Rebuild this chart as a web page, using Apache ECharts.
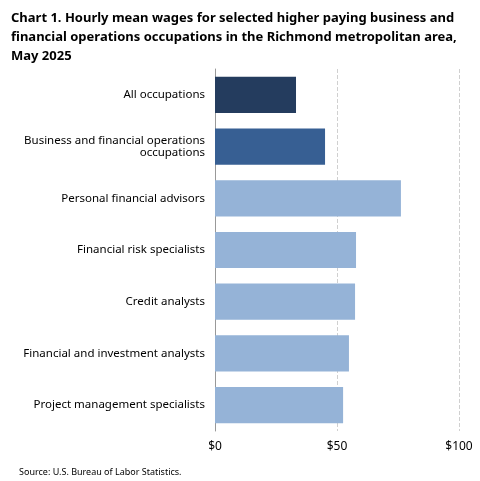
<!DOCTYPE html>
<html><head><meta charset="utf-8">
<script src="https://cdn.jsdelivr.net/npm/echarts@6/dist/echarts.min.js"></script>
<style>html,body{margin:0;padding:0;background:#fff}#c{width:480px;height:481px}</style>
</head><body><div id="c"></div>
<script>
const categories = ["All occupations","Business and financial operations\noccupations","Personal financial advisors","Financial risk specialists","Credit analysts","Financial and investment analysts","Project management specialists"];
const values = [33.2, 45.1, 76.2, 57.8, 57.4, 54.9, 52.5];
const colors = ["#243c5e","#375f93","#95b3d7","#95b3d7","#95b3d7","#95b3d7","#95b3d7"];
const chart = echarts.init(document.getElementById('c'));
chart.setOption({
  animation:false,
  textStyle:{fontFamily:"Noto Sans"},
  title:[{text:"Chart 1. Hourly mean wages for selected higher paying business and\nfinancial operations occupations in the Richmond metropolitan area,\nMay 2025",left:6,top:4,textStyle:{fontSize:13,fontWeight:"bold",color:"#000",lineHeight:19,fontFamily:"Noto Sans"}},
    {text:"Source: U.S. Bureau of Labor Statistics.",left:14,top:463,textStyle:{fontSize:9,fontWeight:"normal",color:"#000"}}],
  grid:{left:215,right:21,top:69,bottom:50},
  xAxis:{type:"value",min:0,max:100,interval:50,
    axisLabel:{formatter:v=>"$"+v,color:"#000",fontSize:12,margin:10},
    splitLine:{lineStyle:{type:"dashed",color:"#d0d0d0"}},axisLine:{show:false},axisTick:{show:false}},
  yAxis:{type:"category",inverse:true,data:categories,
    axisLine:{show:true,lineStyle:{color:"#999"}},axisTick:{show:false},
    axisLabel:{color:"#000",fontSize:11.5,margin:10,align:"right"}
  },
  series:[{type:"bar",barCategoryGap:"30%",
    data:values.map((v,i)=>({value:v,itemStyle:{color:colors[i]}}))}]
});
</script></body></html>
